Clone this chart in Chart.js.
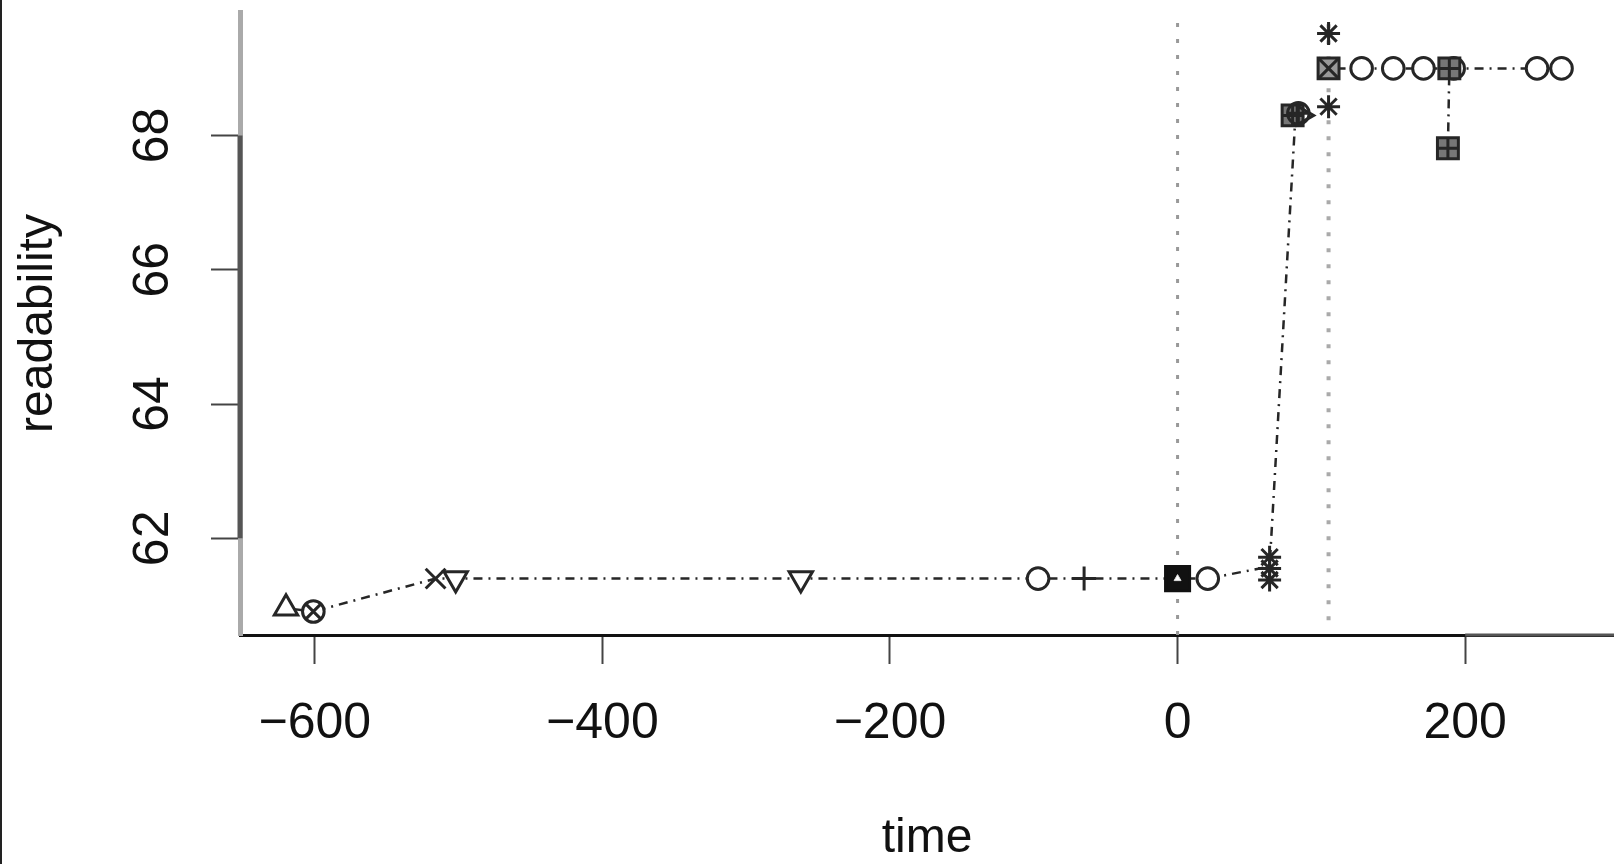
<!DOCTYPE html>
<html>
<head>
<meta charset="utf-8">
<script src="https://cdn.jsdelivr.net/npm/chart.js@4.4.0/dist/chart.umd.min.js"></script>
<style>
  html, body { margin: 0; padding: 0; background: #fff; }
  #wrap { position: relative; width: 1614px; height: 864px; }
  #edge { position: absolute; left: 0; top: 0; width: 2px; height: 864px; background: #222; }
</style>
</head>
<body>
<div id="wrap">
  <canvas id="myChart" width="1614" height="864"></canvas>
  <div id="edge"></div>
</div>
<script>
// tick labels
const xTicks = [-600, -400, -200, 0, 200];
const yTicks = [62, 64, 66, 68];

// the dot-dash paths through the points, in time order
const pathLowX = [-620, -601, -516, -502, -262, -97, -65, 0, 21, 64, 82];
const pathLowY = [60.96, 60.91, 61.40, 61.40, 61.40, 61.40, 61.40, 61.40, 61.40, 61.58, 68.30];
const pathTopX = [105, 128, 150, 171, 189, 250, 267];
const pathTopY = [69.00, 69.00, 69.00, 69.00, 69.00, 69.00, 69.00];
const branchX = [189, 188];
const branchY = [69.00, 67.81];

// vertical reference lines (x positions)
const refX = [0, 105];

// points, one pair of arrays per symbol
const triUpX = [-620];
const triUpY = [60.96];
const circleXMarkX = [-601];
const circleXMarkY = [60.91];
const xMarkX = [-516];
const xMarkY = [61.40];
const triDownX = [-502, -262];
const triDownY = [61.40, 61.40];
const circleX = [-97, 21, 128, 150, 171, 192, 250, 267];
const circleY = [61.40, 61.40, 69.00, 69.00, 69.00, 69.00, 69.00, 69.00];
const plusX = [-65];
const plusY = [61.40];
const filledSqX = [0];
const filledSqY = [61.40];
const starX = [64, 64, 64, 105, 105];
const starY = [61.38, 61.55, 61.72, 69.52, 68.43];
const sqXMarkX = [105];
const sqXMarkY = [69.00];
const sqPlusX = [80, 189, 188];
const sqPlusY = [68.30, 69.00, 67.81];
const circlePlusX = [84];
const circlePlusY = [68.33];
const triRightX = [87];
const triRightY = [68.30];

const font = "'Liberation Sans', Arial, Helvetica, sans-serif";
const ink = "#262626";

function pts(xs, ys) {
  return xs.map((x, i) => ({ x: x, y: ys[i] }));
}

function marker(xs, ys, style, radius, extra) {
  return Object.assign({
    data: pts(xs, ys),
    showLine: false,
    pointStyle: style,
    pointRadius: radius,
    pointBorderWidth: 3,
    pointBorderColor: ink,
    pointBackgroundColor: "#fff",
    order: 1
  }, extra || {});
}

function pathLine(xs, ys) {
  return {
    data: pts(xs, ys),
    showLine: true, pointRadius: 0, borderColor: ink, borderWidth: 2.5,
    borderDash: [2, 6, 9, 6], order: 4
  };
}

function fmt(v) {
  return v < 0 ? "\u2212" + Math.abs(v) : String(v);
}

const yMin = 60.56, yMax = 69.84;

const datasets = [
  // reference lines
  {
    data: pts([refX[0], refX[0]], [yMin, yMax]),
    showLine: true, pointRadius: 0, borderColor: "#999", borderWidth: 3,
    borderDash: [4, 12], order: 5
  },
  {
    data: pts([refX[1], refX[1]], [60.78, 69.80]),
    showLine: true, pointRadius: 0, borderColor: "#aaa", borderWidth: 4,
    borderDash: [4, 12], order: 5
  },
  // connecting lines
  pathLine(pathLowX, pathLowY),
  pathLine(pathTopX, pathTopY),
  pathLine(branchX, branchY),
  marker(triUpX, triUpY, "triangle", 13.5),
  marker(circleXMarkX, circleXMarkY, "circle", 10.8),
  marker(circleXMarkX, circleXMarkY, "crossRot", 10.8, { order: 0 }),
  marker(xMarkX, xMarkY, "crossRot", 14),
  marker(triDownX, triDownY, "triangle", 13.5, { pointRotation: 180 }),
  marker(circleX, circleY, "circle", 10.8),
  marker(plusX, plusY, "cross", 12),
  marker(filledSqX, filledSqY, "rect", 17, { pointBackgroundColor: "#111", pointBorderColor: "#111" }),
  marker(filledSqX, filledSqY, "triangle", 4, { pointBackgroundColor: "#fff", pointBorderColor: "#ddd", pointBorderWidth: 1, order: 0 }),
  marker(starX, starY, "star", 11.5),
  marker(sqXMarkX, sqXMarkY, "rect", 14.8, { pointBackgroundColor: "#999", order: 0 }),
  marker(sqXMarkX, sqXMarkY, "crossRot", 14.8, { order: -1 }),
  marker(sqPlusX, sqPlusY, "rect", 14.8, { pointBackgroundColor: "#777", order: 0 }),
  marker(sqPlusX, sqPlusY, "cross", 10.5, { order: -1 }),
  marker(circlePlusX, circlePlusY, "circle", 10.8, { pointBackgroundColor: "rgba(0,0,0,0)", order: -1 }),
  marker(circlePlusX, circlePlusY, "cross", 10.8, { order: -1 }),
  marker(triRightX, triRightY, "triangle", 11, { pointRotation: 90, pointBackgroundColor: "rgba(0,0,0,0)", order: -1 })
];

// darker axis segments between the outer ticks, like R's axis() over the box
const axisPlugin = {
  id: "axisSegments",
  beforeDatasetsDraw(chart) {
    const ctx = chart.ctx;
    const xs = chart.scales.x, ys = chart.scales.y;
    const area = chart.chartArea;
    ctx.save();
    ctx.lineWidth = 5;
    ctx.strokeStyle = "#555";
    ctx.beginPath();
    ctx.moveTo(area.left, ys.getPixelForValue(yTicks[yTicks.length - 1]));
    ctx.lineTo(area.left, ys.getPixelForValue(yTicks[0]));
    ctx.stroke();
    ctx.lineWidth = 3;
    ctx.strokeStyle = "#555";
    ctx.beginPath();
    ctx.moveTo(xs.getPixelForValue(xTicks[xTicks.length - 1]), area.bottom);
    ctx.lineTo(area.right, area.bottom);
    ctx.stroke();
    ctx.restore();
  }
};

const myChart = new Chart(document.getElementById("myChart"), {
  type: "scatter",
  data: { datasets: datasets },
  plugins: [axisPlugin],
  options: {
    responsive: false,
    animation: false,
    events: [],
    layout: { autoPadding: false, padding: { top: 12, left: 0, right: 0, bottom: 0 } },
    plugins: { legend: { display: false }, tooltip: { enabled: false } },
    scales: {
      x: {
        type: "linear",
        min: -652,
        max: 303.5,
        afterBuildTicks: s => { s.ticks = xTicks.map(v => ({ value: v })); },
        afterFit: s => { s.height = 229; s.paddingLeft = 0; s.paddingRight = 0; },
        grid: { display: true, drawOnChartArea: false, drawTicks: true, tickLength: 29, tickWidth: 2, tickColor: "#444" },
        border: { display: true, color: "#111", width: 3 },
        ticks: {
          padding: 30, maxRotation: 0, autoSkip: false, color: "#111",
          font: { family: font, size: 50 },
          callback: v => fmt(v)
        },
        title: {
          display: true, text: "time", color: "#111",
          font: { family: font, size: 48, lineHeight: 1 },
          padding: { top: 0, bottom: 1 }
        }
      },
      y: {
        type: "linear",
        min: yMin,
        max: yMax,
        afterBuildTicks: s => { s.ticks = yTicks.map(v => ({ value: v })); },
        afterFit: s => { s.width = 240; s.paddingTop = 0; s.paddingBottom = 0; },
        grid: { display: true, drawOnChartArea: false, drawTicks: true, tickLength: 29, tickWidth: 2, tickColor: "#444" },
        border: { display: true, color: "#aaa", width: 5 },
        ticks: {
          padding: 29, minRotation: 90, maxRotation: 90, crossAlign: "center",
          autoSkip: false, color: "#111",
          font: { family: font, size: 50 },
          callback: v => fmt(v)
        },
        title: {
          display: true, text: "readability", color: "#111",
          font: { family: font, size: 48, lineHeight: 1 },
          padding: { top: 15, bottom: 0 }
        }
      }
    }
  }
});
</script>
</body>
</html>
